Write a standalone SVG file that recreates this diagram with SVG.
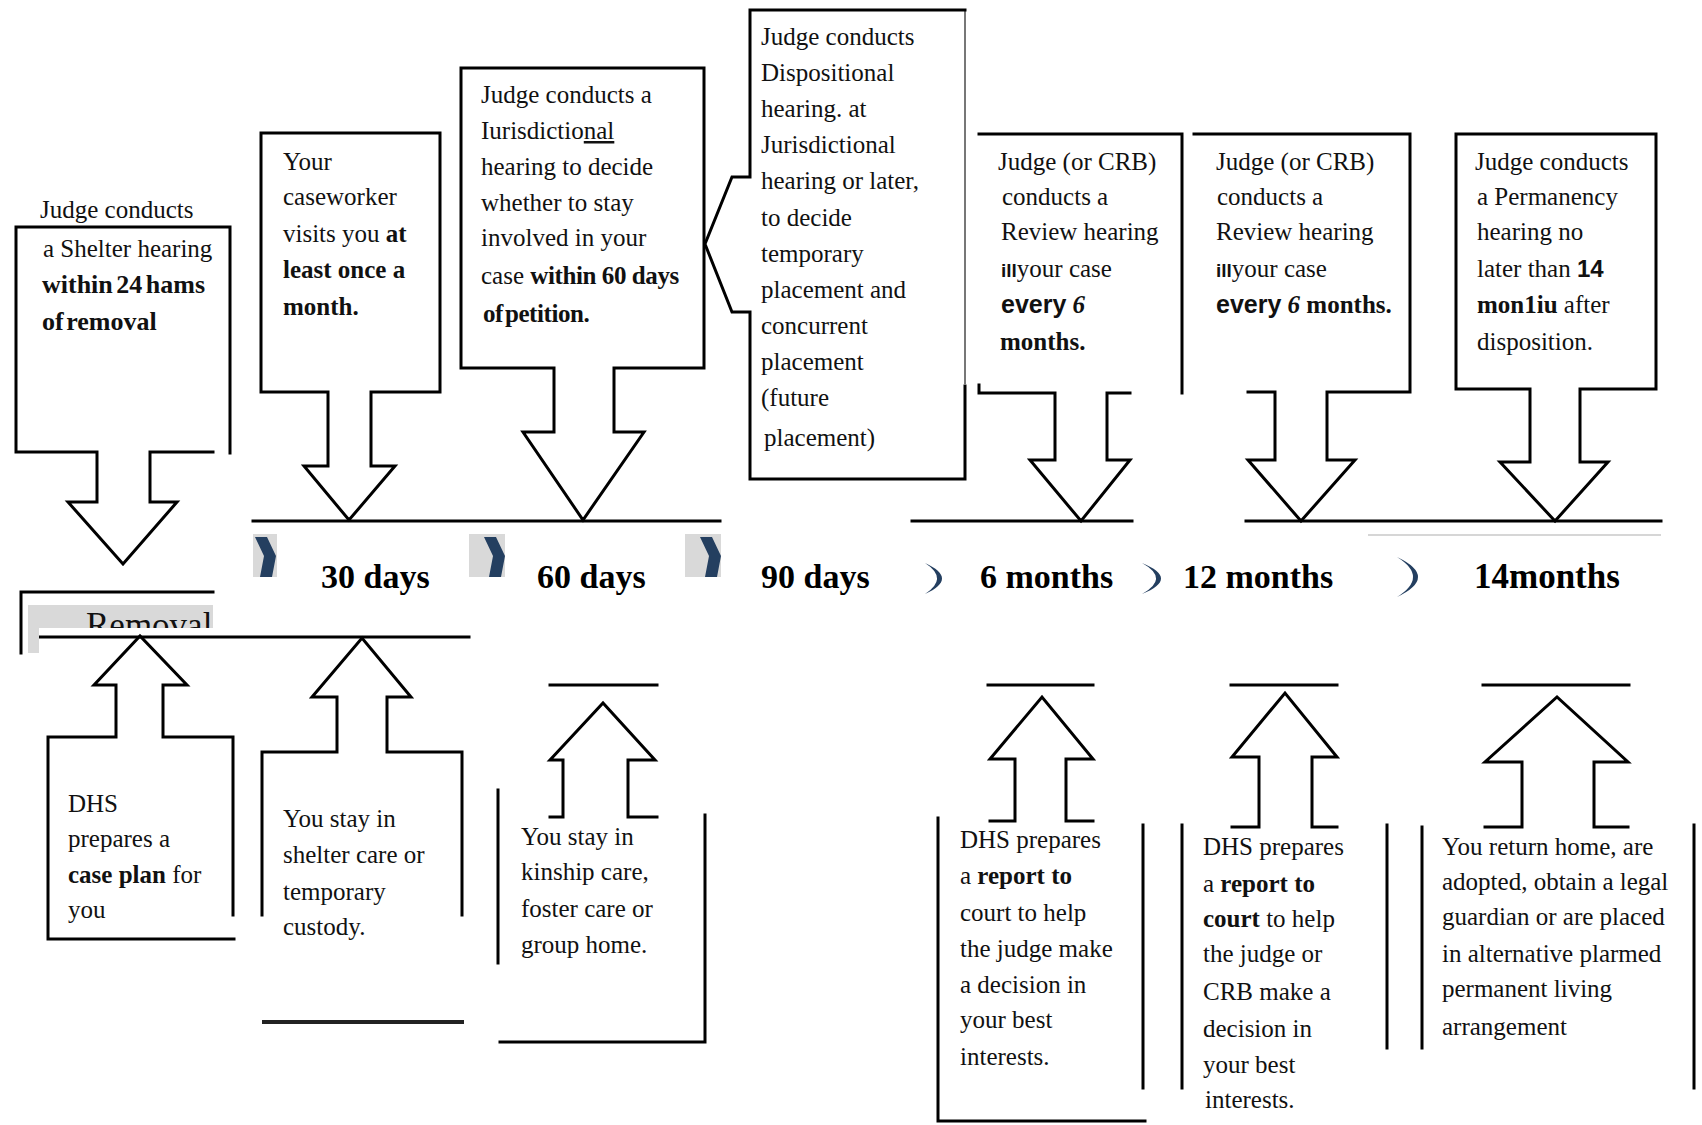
<svg xmlns="http://www.w3.org/2000/svg" width="1702" height="1125" viewBox="0 0 1702 1125" xml:space="preserve">
<defs>
<style>
.ln{fill:none;stroke:#000;stroke-width:3;stroke-linejoin:miter;stroke-linecap:square}
.t{font-family:"Liberation Serif","Times New Roman",serif;font-size:25px;fill:#111}
.b{font-weight:bold}
.lbl{font-family:"Liberation Serif","Times New Roman",serif;font-size:34px;font-weight:bold;fill:#000}
.chev{fill:#243f60}
.gbox{fill:#d9d9d9}
.sans{font-family:"Liberation Sans Narrow","Liberation Sans",Arial,sans-serif;font-weight:bold}
</style>
<clipPath id="remclip"><rect x="28" y="600" width="186" height="28"/></clipPath>
</defs>
<rect width="1702" height="1125" fill="#fff"/>

<g id="connectors">
<path class="ln" d="M253,521 L720,521 M912,521 L1132,521 M1246,521 L1661,521"/>
<path d="M1368,535 L1661,535" stroke="#d6d6d6" stroke-width="2" fill="none"/>
<path class="ln" d="M39,637 L469,637"/>
</g>

<g id="timeline">
<rect class="gbox" x="253" y="534" width="24" height="43"/>
<polygon class="chev" points="255,537 267,537 276,556 272,577 260,577 264,556"/>
<rect class="gbox" x="469" y="534" width="36" height="43"/>
<polygon class="chev" points="484,537 496,537 505,556 501,577 489,577 493,556"/>
<rect class="gbox" x="685" y="534" width="36" height="43"/>
<polygon class="chev" points="700,537 712,537 721,556 717,577 705,577 709,556"/>
<path class="chev" d="M925,563 Q959,578.5 925,594 Q949,578.5 925,563 Z"/>
<path class="chev" d="M1142,563 Q1180,578.5 1142,594 Q1170,578.5 1142,563 Z"/>
<path class="chev" d="M1397,557 Q1439,577 1397,597 Q1429,577 1397,557 Z"/>
<text class="lbl" x="321" y="588">30 days</text>
<text class="lbl" x="537" y="588">60 days</text>
<text class="lbl" x="761" y="588">90 days</text>
<text class="lbl" x="980" y="588">6 months</text>
<text class="lbl" x="1183" y="588">12 months</text>
<text class="lbl" x="1474" y="588" style="font-size:35px">14months</text>
</g>

<g id="removal">
<rect class="gbox" x="28" y="605" width="185" height="23"/>
<rect class="gbox" x="28" y="628" width="11" height="25"/>
<text class="t" x="86" y="637" style="font-size:35px" clip-path="url(#remclip)">Removal</text>
<path class="ln" d="M21,653 L21,592 L213,592"/>
</g>

<g id="shelter-hearing">
<path class="ln" d="M16,452 L16,227 L230,227 L230,453 M16,452 L97,452 L97,502 L68,502 L123,564 L177,502 L150,502 L150,452 L213,452"/>
<text class="t" x="40" y="218" fill="#333">Judge  conducts</text>
<text class="t" x="43" y="257">a Shelter hearing</text>
<text class="t b" x="42" y="293" style="font-size:26px;word-spacing:-3px">within 24 hams</text>
<text class="t b" x="42" y="330" style="font-size:26px;word-spacing:-4px">of removal</text>
</g>

<g id="caseworker-visits">
<path class="ln" d="M261,392 L261,133 L440,133 L440,392 M261,392 L328,392 L328,466 L304,466 L349,520 L395,466 L371,466 L371,392 L440,392"/>
<text class="t" x="283" y="170">Your</text>
<text class="t" x="283" y="205">caseworker</text>
<text class="t" x="283" y="242">visits you <tspan class="b">at</tspan></text>
<text class="t b" x="283" y="278">least once a</text>
<text class="t b" x="283" y="315">month.</text>
</g>

<g id="jurisdictional-hearing">
<path class="ln" d="M461,368 L461,68 L704,68 L704,368 M461,368 L554,368 L554,432 L523,432 L583,520 L644,432 L614,432 L614,368 L704,368"/>
<text class="t" x="481" y="103">Judge conducts a</text>
<text class="t" x="481" y="139">Iurisdictio<tspan text-decoration="underline">nal</tspan></text>
<text class="t" x="481" y="175">hearing  to decide</text>
<text class="t" x="481" y="211">whether to stay</text>
<text class="t" x="481" y="246">involved  in  your</text>
<text class="t" x="481" y="284">case <tspan class="b" style="font-size:25px;letter-spacing:-0.4px">within 60 days</tspan></text>
<text class="t b" x="483" y="322" style="letter-spacing:-0.4px;word-spacing:-4px">of petition.</text>
</g>

<g id="dispositional-hearing">
<path d="M965,10 L965,384" stroke="#777" stroke-width="2" fill="none"/>
<path class="ln" d="M750,177 L750,10 L965,10 M750,177 L732,177 L705,244 L732,312 L750,312 L750,479 L965,479 L965,386"/>
<text class="t" x="761" y="45">Judge conducts</text>
<text class="t" x="761" y="81">Dispositional</text>
<text class="t" x="761" y="117">hearing. at</text>
<text class="t" x="761" y="153">Jurisdictional</text>
<text class="t" x="761" y="189">hearing or  later,</text>
<text class="t" x="761" y="226">to decide</text>
<text class="t" x="761" y="262">temporary</text>
<text class="t" x="761" y="298">placement and</text>
<text class="t" x="761" y="334">concurrent</text>
<text class="t" x="761" y="370">placement</text>
<text class="t" x="761" y="406">(future</text>
<text class="t" x="764" y="446">placement)</text>
</g>

<g id="review-6-months">
<path class="ln" d="M979,134 L1182,134 L1182,393 M979,385 L979,393 L1055,393 L1055,460 L1030,460 L1081,521 L1130,460 L1107,460 L1107,393 L1130,393"/>
<text class="t" x="998" y="170">Judge  (or CRB)</text>
<text class="t" x="1002" y="205">conducts  a</text>
<text class="t" x="1001" y="240">Review hearing</text>
<text class="t" x="1001" y="277"><tspan class="sans" style="font-size:19px">ill</tspan>your case</text>
<text class="t b" x="1001" y="313"><tspan class="sans" style="font-size:25px">every</tspan> <tspan font-style="italic">6</tspan></text>
<text class="t b" x="1000" y="350">months.</text>
</g>

<g id="review-12-months">
<path class="ln" d="M1194,134 L1410,134 L1410,392 L1327,392 L1327,460 L1355,460 L1301,521 L1248,460 L1275,460 L1275,392 L1248,392"/>
<text class="t" x="1216" y="170">Judge (or  CRB)</text>
<text class="t" x="1217" y="205">conducts  a</text>
<text class="t" x="1216" y="240">Review  hearing</text>
<text class="t" x="1216" y="277"><tspan class="sans" style="font-size:19px">ill</tspan>your case</text>
<text class="t b" x="1216" y="313"><tspan class="sans" style="font-size:25px">every</tspan> <tspan font-style="italic">6</tspan> months.</text>
</g>

<g id="permanency-hearing">
<path class="ln" d="M1456,389 L1456,134 L1656,134 L1656,389 L1580,389 L1580,462 L1608,462 L1555,521 L1500,462 L1530,462 L1530,389 Z"/>
<text class="t" x="1475" y="170">Judge  conducts</text>
<text class="t" x="1477" y="205">a Permanency</text>
<text class="t" x="1477" y="240">hearing no</text>
<text class="t" x="1477" y="277">later  than <tspan class="sans" style="font-family:'Liberation Sans',Arial,sans-serif;font-size:24px">14</tspan></text>
<text class="t" x="1477" y="313"><tspan class="b">mon1iu</tspan> after</text>
<text class="t" x="1477" y="350">disposition.</text>
</g>

<g id="case-plan">
<path class="ln" d="M233,915 L233,737 L163,737 L163,685 L187,685 L140,636 L94,685 L116,685 L116,737 L48,737 L48,939 L234,939"/>
<text class="t" x="68" y="812">DHS</text>
<text class="t" x="68" y="847">prepares a</text>
<text class="t" x="68" y="883"><tspan class="b">case plan</tspan> for</text>
<text class="t" x="68" y="918">you</text>
</g>

<g id="shelter-care">
<path class="ln" d="M262,915 L262,752 L337,752 L337,697 L312,697 L362,638 L411,697 L387,697 L387,752 L462,752 L462,915"/>
<path d="M262,1022 L464,1022" stroke="#222" stroke-width="4" fill="none"/>
<text class="t" x="283" y="827">You stay in</text>
<text class="t" x="283" y="863">shelter  care  or</text>
<text class="t" x="283" y="900">temporary</text>
<text class="t" x="283" y="935">custody.</text>
</g>

<g id="kinship-care">
<path class="ln" d="M550,685 L657,685 M550,817 L563,817 L563,760 L550,760 L603,703 L655,760 L628,760 L628,817 L657,817 M498,790 L498,963 M705,815 L705,1042 L500,1042"/>
<text class="t" x="521" y="845">You  stay in</text>
<text class="t" x="521" y="880">kinship  care,</text>
<text class="t" x="521" y="917">foster care or</text>
<text class="t" x="521" y="953">group  home.</text>
</g>

<g id="report-6-months">
<path class="ln" d="M988,685 L1093,685 M990,821 L1015,821 L1015,759 L990,759 L1042,697 L1093,759 L1066,759 L1066,821 L1093,821 M938,818 L938,1121 L1145,1121 M1143,825 L1143,1088"/>
<text class="t" x="960" y="848">DHS prepares</text>
<text class="t" x="960" y="884">a <tspan class="b">report to</tspan></text>
<text class="t" x="960" y="921">court  to help</text>
<text class="t" x="960" y="957">the  judge make</text>
<text class="t" x="960" y="993">a decision  in</text>
<text class="t" x="960" y="1028">your  best</text>
<text class="t" x="960" y="1065">interests.</text>
</g>

<g id="report-12-months">
<path class="ln" d="M1231,685 L1337,685 M1232,827 L1259,827 L1259,757 L1232,757 L1285,693 L1337,757 L1312,757 L1312,827 L1337,827 M1182,825 L1182,1088 M1387,825 L1387,1048"/>
<text class="t" x="1203" y="855">DHS prepares</text>
<text class="t" x="1203" y="892">a <tspan class="b">report to</tspan></text>
<text class="t" x="1203" y="927"><tspan class="b">court</tspan> to help</text>
<text class="t" x="1203" y="962">the judge  or</text>
<text class="t" x="1203" y="1000">CRB make  a</text>
<text class="t" x="1203" y="1037">decision  in</text>
<text class="t" x="1203" y="1073">your  best</text>
<text class="t" x="1205" y="1108">interests.</text>
</g>

<g id="permanency-outcome">
<path class="ln" d="M1483,685 L1629,685 M1485,827 L1522,827 L1522,762 L1485,762 L1557,697 L1628,762 L1594,762 L1594,827 L1628,827 M1422,827 L1422,1048 M1694,825 L1694,1088"/>
<text class="t" x="1442" y="855">You  return  home, are</text>
<text class="t" x="1442" y="890">adopted,  obtain a legal</text>
<text class="t" x="1442" y="925">guardian  or  are placed</text>
<text class="t" x="1442" y="962">in alternative plarmed</text>
<text class="t" x="1442" y="997">permanent living</text>
<text class="t" x="1442" y="1035">arrangement</text>
</g>
</svg>
